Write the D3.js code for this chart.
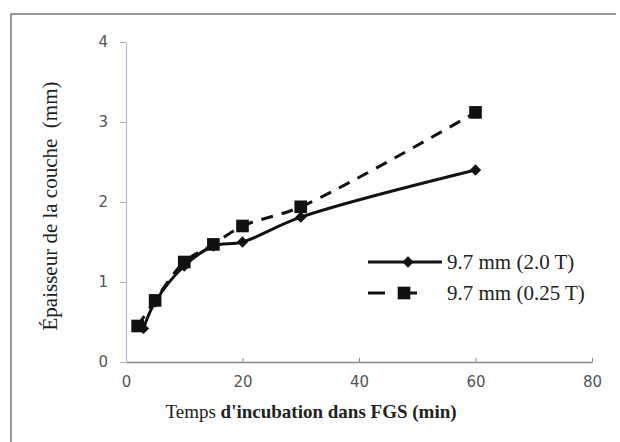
<!DOCTYPE html>
<html>
<head>
<meta charset="utf-8">
<script src="https://cdn.jsdelivr.net/npm/d3@7"></script>
<style>
  body { margin: 0; background: #fff; }
</style>
</head>
<body>
<div id="chart"></div>
<script>
const timesA = [3, 5, 10, 15, 20, 30, 60];
const valuesA = [0.42, 0.75, 1.2, 1.45, 1.5, 1.81, 2.4];
const timesB = [2, 5, 10, 15, 20, 30, 60];
const valuesB = [0.45, 0.77, 1.25, 1.47, 1.7, 1.94, 3.12];
const xTicks = [0, 20, 40, 60, 80];
const yTicks = [0, 1, 2, 3, 4];
const seriesNames = ["9.7 mm (2.0 T)", "9.7 mm (0.25 T)"];

const width = 620, height = 442;
const margin = { top: 42, right: 28, bottom: 80, left: 126 };

const svg = d3.select('#chart').append('svg')
    .attr('width', width)
    .attr('height', height);

// frame of the figure
svg.append('path')
    .attr('d', 'M11,442 V14 H616')
    .attr('fill', 'none')
    .attr('stroke', '#777')
    .attr('stroke-width', 1.5);

const x = d3.scaleLinear().domain([0, 80]).range([margin.left, width - margin.right]);
const y = d3.scaleLinear().domain([0, 4]).range([height - margin.bottom, margin.top]);

const xAxis = svg.append('g')
    .attr('transform', `translate(0,${y(0)})`)
    .call(d3.axisBottom(x).tickValues(xTicks).tickFormat(d3.format('d')).tickSize(-4).tickSizeOuter(0).tickPadding(14));
xAxis.select('.domain').attr('stroke', '#888').attr('stroke-width', 1.5);
xAxis.selectAll('.tick line').attr('stroke', '#888');
xAxis.selectAll('.tick text')
    .attr('fill', '#555')
    .style('font-family', 'DejaVu Sans, sans-serif')
    .style('font-size', '15px');

const yAxis = svg.append('g')
    .attr('transform', `translate(${x(0)},0)`)
    .call(d3.axisLeft(y).tickValues(yTicks).tickFormat(d3.format('d')).tickSize(6).tickSizeOuter(0).tickPadding(12));
yAxis.select('.domain').attr('stroke', '#b4b9e0').attr('stroke-width', 1.2);
yAxis.selectAll('.tick line').attr('stroke', '#aab');
yAxis.selectAll('.tick text')
    .attr('fill', '#555')
    .style('font-family', 'DejaVu Sans, sans-serif')
    .style('font-size', '15px');

const dataA = timesA.map((t, i) => [t, valuesA[i]]);
const dataB = timesB.map((t, i) => [t, valuesB[i]]);

const line = d3.line()
    .x(d => x(d[0]))
    .y(d => y(d[1]))
    .curve(d3.curveCatmullRom.alpha(0.5));

svg.append('path')
    .datum(dataB)
    .attr('fill', 'none')
    .attr('stroke', '#111')
    .attr('stroke-width', 3)
    .attr('stroke-dasharray', '12,9')
    .attr('d', line);

svg.append('path')
    .datum(dataA)
    .attr('fill', 'none')
    .attr('stroke', '#111')
    .attr('stroke-width', 3)
    .attr('d', line);

const square = d3.symbol().type(d3.symbolSquare).size(160);
const diamond = d3.symbol().type(d3.symbolSquare).size(64);

svg.selectAll('.sq')
    .data(dataB)
    .enter().append('path')
    .attr('class', 'sq')
    .attr('d', square)
    .attr('transform', d => `translate(${x(d[0])},${y(d[1])})`)
    .attr('fill', '#111');

svg.selectAll('.dm')
    .data(dataA)
    .enter().append('path')
    .attr('class', 'dm')
    .attr('d', diamond)
    .attr('transform', d => `translate(${x(d[0])},${y(d[1])}) rotate(45)`)
    .attr('fill', '#111');

// legend
const legend = svg.append('g');
legend.append('line')
    .attr('x1', 368).attr('x2', 442).attr('y1', 262).attr('y2', 262)
    .attr('stroke', '#111').attr('stroke-width', 3);
legend.append('path')
    .attr('d', diamond)
    .attr('transform', 'translate(408,262) rotate(45)')
    .attr('fill', '#111');
legend.append('line')
    .attr('x1', 368).attr('x2', 422).attr('y1', 293).attr('y2', 293)
    .attr('stroke', '#111').attr('stroke-width', 3)
    .attr('stroke-dasharray', '17,15');
legend.append('path')
    .attr('d', square)
    .attr('transform', 'translate(404,293)')
    .attr('fill', '#111');
legend.selectAll('text')
    .data(seriesNames)
    .enter().append('text')
    .attr('x', 447)
    .attr('y', (d, i) => 262 + i * 31)
    .attr('dy', '0.35em')
    .style('font-family', 'Liberation Serif, serif')
    .style('font-size', '21px')
    .attr('fill', '#222')
    .text(d => d);

// axis titles
svg.append('text')
    .attr('transform', 'rotate(-90)')
    .attr('x', -206)
    .attr('y', 57)
    .attr('text-anchor', 'middle')
    .style('font-family', 'Liberation Serif, serif')
    .style('font-size', '21px')
    .style('white-space', 'pre')
    .attr('fill', '#222')
    .text('Épaisseur de la couche  (mm)');

const xt = svg.append('text')
    .attr('x', 311)
    .attr('y', 418)
    .attr('text-anchor', 'middle')
    .style('font-family', 'Liberation Serif, serif')
    .style('font-size', '19px')
    .attr('fill', '#222');
xt.append('tspan').text('Temps ');
xt.append('tspan').style('font-weight', 'bold').text("d'incubation dans FGS (min)");
</script>
</body>
</html>
